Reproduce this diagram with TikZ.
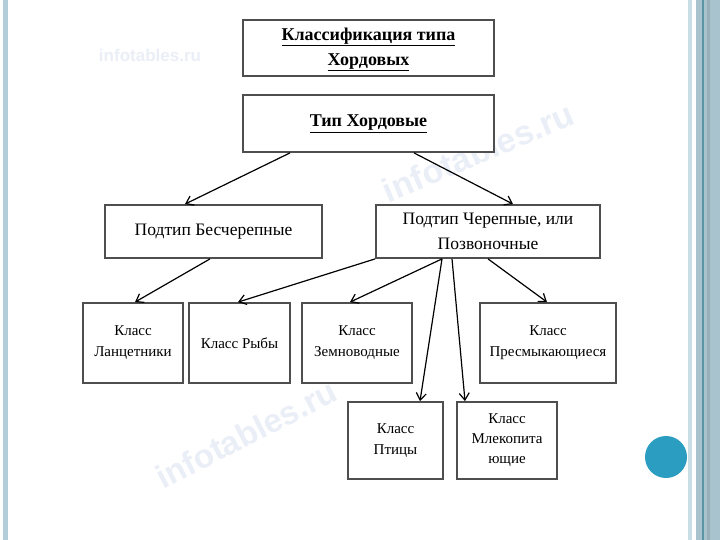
\documentclass[tikz,border=0pt]{standalone}
\usepackage{fontspec}
\setmainfont{Liberation Serif}
\newfontfamily\wmfont{Liberation Sans}
\usetikzlibrary{arrows.meta,positioning,calc}
\definecolor{boxgray}{HTML}{4E4E4E}
\definecolor{stripeblue}{HTML}{B2CFD9}
\definecolor{stripedark}{HTML}{A9C3CE}
\definecolor{stripeline}{HTML}{5C96A4}
\definecolor{dotblue}{HTML}{2A9DC0}
\definecolor{wmblue}{HTML}{EAEEF6}
\tikzset{
  taxbox/.style   = {draw=boxgray, line width=1.8pt, fill=white, align=center,
                     inner sep=2pt, font=\fontsize{15}{21}\selectfont},
  headbox/.style  = {taxbox, font=\fontsize{18}{24}\selectfont\bfseries},
  subbox/.style   = {taxbox, font=\fontsize{17.5}{25}\selectfont},
  link/.style     = {-{Straight Barb[length=7pt,width=10pt]}, line width=1.2pt},
  watermark/.style= {text=wmblue, inner sep=0pt},
}

\begin{document}
\begin{tikzpicture}[x=1pt,y=-1pt]
  \useasboundingbox (0,0) rectangle (720,540);
  \fill[white] (0,0) rectangle (720,540);

  % ---- slide frame ---------------------------------------------------------
  \fill[stripeblue] (3,0) rectangle (8,540);
  \fill[stripeblue!70] (688,0) rectangle (692,540);
  \fill[stripedark] (696,0) rectangle (720,540);
  \fill[stripeline] (702,0) rectangle (703.5,540);
  \fill[stripedark!90!black] (707,0) rectangle (710,540);
  \fill[dotblue] (666,457) circle (21pt);

  % ---- watermarks ----------------------------------------------------------
  \node[watermark, font=\wmfont\bfseries\fontsize{17}{17}\selectfont]
       (wmtop) at (150,55) {infotables.ru};
  \node[watermark, rotate=23, font=\wmfont\bfseries\fontsize{34}{34}\selectfont]
       (wmmid) at (478,152) {infotables.ru};
  \node[watermark, rotate=27, font=\wmfont\bfseries\fontsize{33}{33}\selectfont]
       (wmlow) at (246,434) {infotables.ru};

  % ---- phylum and subphyla -------------------------------------------------
  \node[headbox, minimum width=251, minimum height=56] (title) at (368.5,48)
       {\raisebox{-5pt}{\begin{tabular}{@{}c@{}}\underline{Классификация типа}\\[1pt]
        \underline{Хордовых}\end{tabular}}};
  \node[headbox, minimum width=251, minimum height=57] (tip) at (368.5,123.5)
       {\raisebox{-2pt}{\underline{Тип Хордовые}}};
  \node[subbox, minimum width=217, minimum height=53] (bescher) at (213.5,231.5)
       {Подтип Бесчерепные};
  \node[subbox, minimum width=224, minimum height=53] (cher) at (488,231.5)
       {Подтип Черепные, или\\Позвоночные};

  % ---- classes -------------------------------------------------------------
  \node[taxbox, minimum width=100, minimum height=80] (lanc)  at (133,343)
       {Класс\\Ланцетники};
  \node[taxbox, minimum width=101, minimum height=80] (ryby)  at (239.5,343)
       {Класс Рыбы};
  \node[taxbox, minimum width=110, minimum height=80] (zemn)  at (357,343)
       {Класс\\Земноводные};
  \node[taxbox, minimum width=136, minimum height=80] (presm) at (548,343)
       {Класс\\Пресмыкающиеся};
  \node[taxbox, minimum width=95,  minimum height=77] (ptic)  at (395.5,440.5)
       {Класс\\Птицы};
  \node[taxbox, minimum width=100, minimum height=77,
        font=\fontsize{15}{20}\selectfont] (mlek)  at (507,440.5)
       {Класс\\Млекопита\\ющие};

  % ---- arrows --------------------------------------------------------------
  \draw[link] ([xshift=-78.5pt]tip.south) -- ([xshift=-28.5pt]bescher.north);
  \draw[link] ([xshift=45.5pt]tip.south)  -- ([xshift=25pt]cher.north);
  \draw[link] ([xshift=-3.5pt]bescher.south) -- ([xshift=2pt]lanc.north);
  \draw[link] (cher.south west) -- ([xshift=-1.5pt]ryby.north);
  \draw[link] ([xshift=-46pt]cher.south) -- ([xshift=-7pt]zemn.north);
  \draw[link] ([xshift=-46pt]cher.south) -- ([xshift=24.5pt]ptic.north);
  \draw[link] ([xshift=-36pt]cher.south) -- ([xshift=-42pt]mlek.north);
  \draw[link] (cher.south) -- ([xshift=-1pt]presm.north);
\end{tikzpicture}
\end{document}
